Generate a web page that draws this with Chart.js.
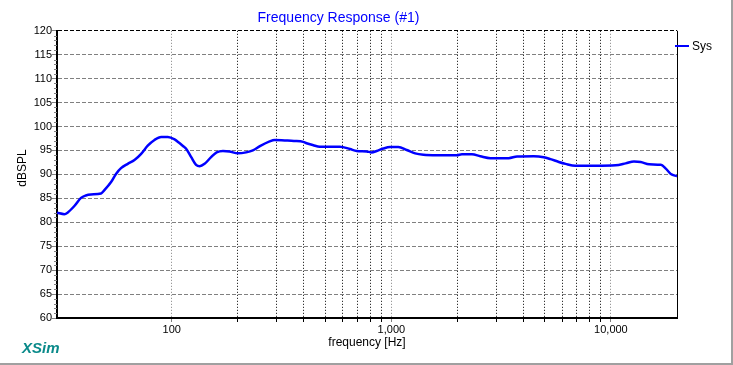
<!DOCTYPE html>
<html>
<head>
<meta charset="utf-8">
<script src="https://cdn.jsdelivr.net/npm/chart.js@4/dist/chart.umd.min.js"></script>
<style>
  html, body { margin: 0; padding: 0; background: #ffffff; }
  #wrap {
    position: relative;
    width: 731px;
    height: 363px;
    border-right: 2px solid #a0a0a0;
    border-bottom: 2px solid #a0a0a0;
    background: #ffffff;
    font-family: Arial, "Liberation Sans", sans-serif;
  }
  #xsim {
    position: absolute;
    left: 22px;
    top: 339px;
    font-size: 15px;
    font-weight: bold;
    font-style: italic;
    color: #0a8a8a;
  }
  #ytitle {
    position: absolute;
    left: 22px;
    top: 168px;
    font-size: 12px;
    color: #000;
    white-space: nowrap;
    transform: translate(-50%, -50%) rotate(-90deg);
  }
  #legend {
    position: absolute;
    left: 675px;
    top: 39px;
    font-size: 12px;
    color: #000;
    white-space: nowrap;
  }
  #legend span.swatch {
    display: inline-block;
    width: 14px;
    height: 2px;
    background: #0000ff;
    vertical-align: middle;
    margin-right: 3px;
    position: relative;
    top: -1px;
  }
</style>
</head>
<body>
<div id="wrap">
  <canvas id="freqChart" width="731" height="363"></canvas>
  <div id="ytitle">dBSPL</div>
  <div id="legend"></div>
  <div id="xsim">XSim</div>
</div>
<script>
let freqHz = [30, 32.4, 33.5, 36, 38.6, 40.6, 42.8, 47.6, 49.3, 52.9, 55.7, 58.7, 63, 67.6,
  72.5, 77.7, 83.4, 89.5, 96, 103, 108, 112, 116, 122.6, 129, 134, 141, 151, 160, 171,
  183, 200, 218, 234, 252, 279, 294, 327, 360, 397, 411, 441, 472, 583, 648, 695, 772,
  814, 857, 919, 986, 1076, 1175, 1283, 1400, 1611, 1989, 2096, 2328, 2542, 2824, 3424,
  3738, 4450, 4944, 5305, 5791, 6213, 6898, 8514, 10500, 11670, 12740, 13670, 14930,
  16870, 17780, 18750, 20000];
let splDb = [82.0, 81.7, 82.0, 83.4, 85.1, 85.6, 85.8, 86.0, 86.7, 88.4, 90.1, 91.3, 92.2, 93.0,
  94.3, 96.0, 97.2, 97.8, 97.8, 97.3, 96.6, 96.0, 95.4, 93.6, 92.0, 91.7, 92.2, 93.6, 94.6, 94.9,
  94.8, 94.4, 94.6, 95.0, 95.9, 96.9, 97.2, 97.1, 97.0, 96.8, 96.5, 96.1, 95.8, 95.8, 95.3, 94.9, 94.8,
  94.6, 94.9, 95.4, 95.7, 95.7, 95.1, 94.4, 94.1, 94.0, 94.0, 94.2, 94.2, 93.8, 93.4, 93.4,
  93.75, 93.8, 93.6, 93.2, 92.6, 92.2, 91.8, 91.8, 91.9, 92.3, 92.7, 92.6, 92.1,
  92.0, 91.2, 90.1, 89.6];

let seriesName = "Sys";
let xGridHz = [100, 200, 300, 400, 500, 600, 700, 800, 900, 1000,
  2000, 3000, 4000, 5000, 6000, 7000, 8000, 9000, 10000];
let xLabelHz = [100, 1000, 10000];
let yMin = 60;
let yMax = 120;

let points = [];
for (let i = 0; i < freqHz.length; i++) {
  points[i] = { x: freqHz[i], y: splDb[i] };
}

document.getElementById("legend").innerHTML =
  `<span class="swatch"></span>${seriesName}`;

// right frame edge + minor y ticks
const frameAndMinor = {
  id: "frameAndMinor",
  afterDraw(chart) {
    let ctx = chart.ctx;
    let area = chart.chartArea;
    let yScale = chart.scales.y;
    ctx.save();
    ctx.strokeStyle = "#000000";
    ctx.lineWidth = 1;
    ctx.beginPath();
    ctx.moveTo(area.right + 0.5, area.top);
    ctx.lineTo(area.right + 0.5, area.bottom);
    ctx.stroke();

    ctx.strokeStyle = "#808080";
    ctx.beginPath();
    for (let v = yMin; v <= yMax; v++) {
      if (v % 5 === 0) continue;
      let py = Math.round(yScale.getPixelForValue(v)) + 0.5;
      ctx.moveTo(area.left - 3, py);
      ctx.lineTo(area.left, py);
    }
    ctx.stroke();
    ctx.restore();
  },
};

let chartCtx = document.getElementById("freqChart").getContext("2d");

const freqChart = new Chart(chartCtx, {
  type: "line",
  data: {
    datasets: [
      {
        label: seriesName,
        data: points,
        borderColor: "#0000ff",
        borderWidth: 2.5,
        pointRadius: 0,
        cubicInterpolationMode: "monotone",
        fill: false,
      },
    ],
  },
  options: {
    responsive: false,
    animation: false,
    layout: { padding: { left: 0, right: 54, top: 0, bottom: 0 } },
    plugins: {
      legend: { display: false },
      tooltip: { enabled: false },
      title: {
        display: true,
        text: "Frequency Response (#1)",
        color: "#0000ff",
        font: { family: "Arial, 'Liberation Sans'", size: 14, weight: "normal" },
        padding: { top: 10, bottom: 4 },
      },
    },
    scales: {
      x: {
        type: "logarithmic",
        min: 30,
        max: 20000,
        afterBuildTicks: (axis) => {
          axis.ticks = xGridHz.map((v) => ({ value: v }));
        },
        afterFit: (axis) => {
          axis.height = 45;
        },
        ticks: {
          autoSkip: false,
          maxRotation: 0,
          padding: 1,
          color: "#000000",
          font: { family: "Arial, 'Liberation Sans'", size: 11 },
          callback: (value) =>
            xLabelHz.includes(value) ? value.toLocaleString("en-US") : "",
        },
        grid: {
          color: (c) => (c.tick && xLabelHz.includes(c.tick.value) ? "#808080" : "#000000"),
          tickColor: (c) => (c.tick && xLabelHz.includes(c.tick.value) ? "#808080" : "#000000"),
          tickLength: 4,
          lineWidth: 1,
        },
        border: { display: true, color: "#000000", width: 2, dash: [1, 2] },
        title: {
          display: true,
          text: "frequency [Hz]",
          color: "#000000",
          font: { family: "Arial, 'Liberation Sans'", size: 12 },
          padding: { top: 0, bottom: 13 },
        },
      },
      y: {
        min: yMin,
        max: yMax,
        afterFit: (axis) => {
          axis.width = 57;
        },
        ticks: {
          stepSize: 5,
          padding: 0,
          color: "#000000",
          font: { family: "Arial, 'Liberation Sans'", size: 11 },
        },
        grid: {
          color: (c) => (c.tick && c.tick.value === yMax ? "#000000" : "#808080"),
          tickColor: "#808080",
          tickLength: 5,
          lineWidth: 1,
        },
        border: { display: true, color: "#000000", width: 2, dash: [4, 2] },
        title: { display: false },
      },
    },
  },
  plugins: [frameAndMinor],
});
</script>
</body>
</html>
